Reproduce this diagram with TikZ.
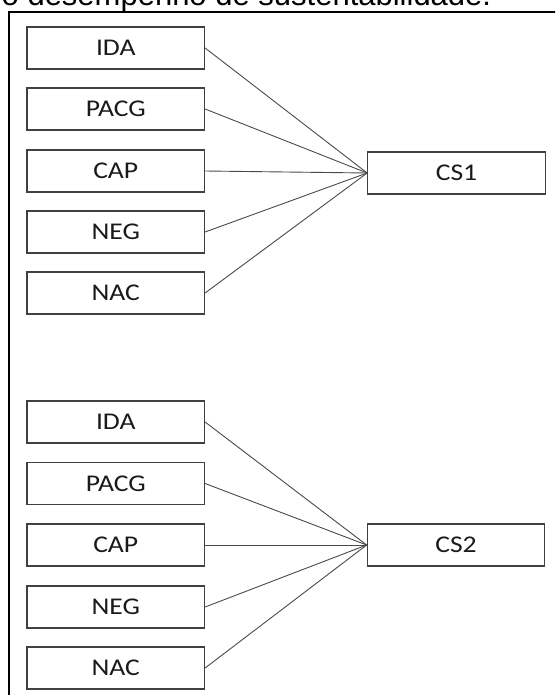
\documentclass[tikz,border=0pt]{standalone}
\usepackage{fontspec}
\setmainfont{Liberation Sans}
\newfontfamily\lblfont[FakeStretch=1.15]{Carlito}
\definecolor{edgegray}{HTML}{404040}
\definecolor{linkgray}{HTML}{4a4a4a}
\definecolor{inkblack}{HTML}{1a1a1a}
\tikzset{
  varbox/.style={draw=edgegray, line width=1.2pt, minimum width=177.5pt, minimum height=42pt,
    inner sep=0pt, text=inkblack, font=\lblfont\fontsize{24}{24}\selectfont},
  link/.style={draw=linkgray, line width=0.9pt},
  frame/.style={draw=black, line width=2pt}
}
\begin{document}
\begin{tikzpicture}[x=1pt,y=-1pt]
\useasboundingbox (0,0) rectangle (555,695);
\clip (0,0) rectangle (555,695);
\fill[white] (0,0) rectangle (555,695);
% caption line running above the frame
\node[anchor=base west, inner sep=0pt, font=\fontsize{31}{31}\selectfont, text=black]
  (caption) at (1.5,5.5) {o desempenho de sustentabilidade.};
% outer frame
\draw[frame] (9,700) -- (9,12.5) -- (560,12.5);

% first group
\node[varbox] (a1) at (115.75,48) {IDA};
\node[varbox] (a2) at (115.75,109) {PACG};
\node[varbox] (a3) at (115.75,171) {CAP};
\node[varbox] (a4) at (115.75,232) {NEG};
\node[varbox] (a5) at (115.75,293) {NAC};
\node[varbox] (cs1) at (456.5,173) {CS1};
\foreach \i in {1,...,5} \draw[link] (a\i.east) -- (cs1.west);

% second group
\node[varbox] (b1) at (115.75,422) {IDA};
\node[varbox] (b2) at (115.75,483.5) {PACG};
\node[varbox] (b3) at (115.75,545) {CAP};
\node[varbox] (b4) at (115.75,607) {NEG};
\node[varbox] (b5) at (115.75,668) {NAC};
\node[varbox] (cs2) at (456,545) {CS2};
\foreach \i in {1,...,5} \draw[link] (b\i.east) -- (cs2.west);
\end{tikzpicture}
\end{document}
